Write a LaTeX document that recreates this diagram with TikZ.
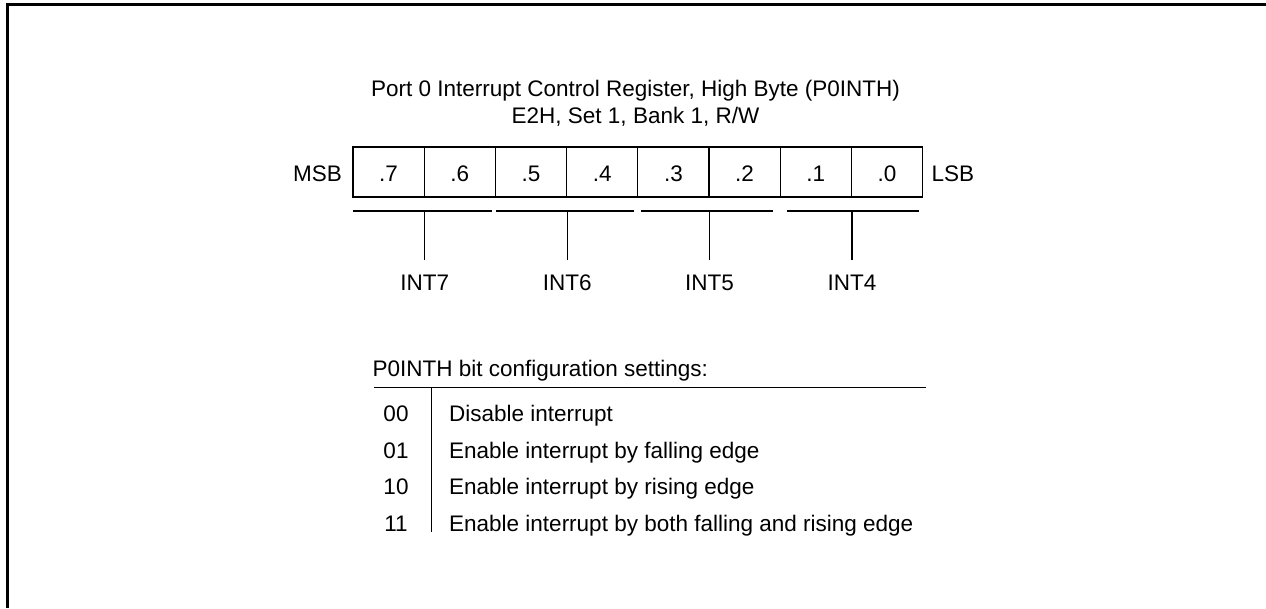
\documentclass[tikz,border=0pt]{standalone}
\usepackage{fontspec}
\setmainfont{Liberation Sans}
\begin{document}
\begin{tikzpicture}[x=1pt,y=-1pt,
  every node/.style={font=\fontsize{22.5}{27}\selectfont, inner sep=0pt},
  line/.style={line width=1.2pt},
  frame/.style={line width=2.6pt},
  cell/.style={draw, line width=1.2pt, minimum width=71.2pt, minimum height=50pt, text height=18pt, text depth=0pt},
  intlabel/.style={anchor=base, inner xsep=0pt, inner ysep=13.5pt, text height=16pt, text depth=0pt},
  code/.style={anchor=base},
  desc/.style={anchor=base west}]
\useasboundingbox (0,0) rectangle (1266,608);
% frame (top and left edges only)
\draw[frame] (7.3,608) -- (7.3,4.2) -- (1266,4.2);
% title
\node[anchor=base] (title1) at (635.5,96.5) {Port 0 Interrupt Control Register, High Byte (P0INTH)};
\node[anchor=base] (title2) at (635.5,123.3) {E2H, Set 1, Bank 1, R/W};
% register cells
\foreach \b [count=\i from 0] in {7,6,5,4,3,2,1,0} {
  \node[cell] (b\b) at ({353+35.6+\i*71.2},172) {.\b};
}
\node[anchor=base east] (msb) at (342,181) {MSB};
\node[anchor=base west] (lsb) at (931.5,181) {LSB};
% group lines
\coordinate (g1s) at (353,211); \coordinate (g1e) at (492,211);
\coordinate (g2s) at (496,211); \coordinate (g2e) at (634,211);
\coordinate (g3s) at (641,211); \coordinate (g3e) at (773,211);
\coordinate (g4s) at (787,211); \coordinate (g4e) at (919,211);
\draw[line] (g1s) -- (g1e);
\draw[line] (g2s) -- (g2e);
\draw[line] (g3s) -- (g3e);
\draw[line] (g4s) -- (g4e);
% INT labels
\node[intlabel] (int7) at (b7.east |- 0,290) {INT7};
\node[intlabel] (int6) at (b5.east |- 0,290) {INT6};
\node[intlabel] (int5) at (b3.east |- 0,290) {INT5};
\node[intlabel] (int4) at (b1.east |- 0,290) {INT4};
\draw[line] (int7.north) -- (int7.north |- g1s);
\draw[line] (int6.north) -- (int6.north |- g2s);
\draw[line] (int5.north) -- (int5.north |- g3s);
\draw[line] (int4.north) -- (int4.north |- g4s);
% settings table
\node[anchor=base west] (hdr) at (372.5,376) {P0INTH bit configuration settings:};
\coordinate (hl) at (374,387.3); \coordinate (hr) at (926,387.3);
\coordinate (vt) at (431.3,387.3); \coordinate (vb) at (431.3,531.7);
\draw[line] (hl) -- (hr);
\draw[line] (vt) -- (vb);
\node[code] (c00) at (396,421.7) {00};
\node[code] (c01) at (396,458.3) {01};
\node[code] (c10) at (396,494.7) {10};
\node[code] (c11) at (396,531) {11};
\node[desc] (d00) at (449,421.7) {Disable interrupt};
\node[desc] (d01) at (449,458.3) {Enable interrupt by falling edge};
\node[desc] (d10) at (449,494.7) {Enable interrupt by rising edge};
\node[desc] (d11) at (449,531) {Enable interrupt by both falling and rising edge};
\end{tikzpicture}
\end{document}
